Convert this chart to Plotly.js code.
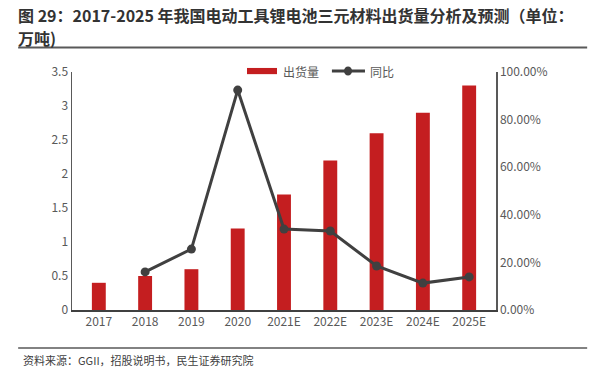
<!DOCTYPE html>
<html><head><meta charset="utf-8">
<script src="https://cdn.plot.ly/plotly-3.0.1.min.js"></script>
<style>body{margin:0;background:#fff}#c{width:602px;height:384px}</style>
</head><body><div id="c"></div>
<script>
const categories = ["2017","2018","2019","2020","2021E","2022E","2023E","2024E","2025E"];
const shipments = [0.4,0.5,0.6,1.2,1.7,2.2,2.6,2.9,3.3];
const yoy = [null,0.16,0.256,0.924,0.34,0.332,0.185,0.113,0.139];
const leftTicks = [0,0.5,1,1.5,2,2.5,3,3.5];
const leftTickText = ["0","0.5","1","1.5","2","2.5","3","3.5"];
const rightTicks = [0,0.2,0.4,0.6,0.8,1.0];
const rightTickText = ["0.00%","20.00%","40.00%","60.00%","80.00%","100.00%"];
const seriesNames = ["出货量","同比"];

const F = '"Noto Sans CJK SC","Noto Sans",sans-serif';
const data = [
 {type:'bar', x:categories, y:shipments, name:seriesNames[0], marker:{color:'#C41E20'}, width:0.3},
 {type:'scatter', mode:'lines+markers', x:categories, y:yoy, yaxis:'y2', name:seriesNames[1],
  line:{color:'#404040', width:3}, marker:{color:'#404040', size:9}, connectgaps:false}
];
const layout = {
 width:602, height:384, margin:{l:72, r:106, t:72, b:74},
 paper_bgcolor:'#fff', plot_bgcolor:'#fff', showlegend:false,
 font:{family:F, size:12, color:'#595959'},
 xaxis:{type:'category', showline:true, linecolor:'#404040', linewidth:1.5, ticks:'', showgrid:false, tickfont:{size:12,color:'#595959'}},
 yaxis:{range:[0,3.5], tickvals:leftTicks, ticktext:leftTickText, showline:true, linecolor:'#595959', linewidth:1.5, showgrid:false, zeroline:false, ticks:'', tickfont:{size:12,color:'#595959'}},
 yaxis2:{overlaying:'y', side:'right', range:[0,1.0], tickvals:rightTicks, ticktext:rightTickText, showline:true, linecolor:'#595959', linewidth:1.5, showgrid:false, zeroline:false, ticks:'', tickfont:{size:12,color:'#595959'}},
 annotations:[
  {xref:'paper', yref:'paper', x:-0.13, y:1.239, xanchor:'left', yanchor:'middle', align:'left', showarrow:false, borderpad:0,
   text:'<b>图 29：2017-2025 年我国电动工具锂电池三元材料出货量分析及预测（单位：</b>',
   font:{family:F, size:16, color:'#333'}},
  {xref:'paper', yref:'paper', x:-0.13, y:1.141, xanchor:'left', yanchor:'middle', align:'left', showarrow:false, borderpad:0,
   text:'<b>万吨)</b>',
   font:{family:F, size:16, color:'#333'}},
  {xref:'paper', yref:'paper', x:-0.12, y:-0.17, xanchor:'left', yanchor:'top', showarrow:false,
   text:'资料来源：GGII，招股说明书，民生证券研究院', font:{family:F, size:11, color:'#404040'}},
  {xref:'paper', yref:'paper', x:0.493, y:1.004, xanchor:'left', yanchor:'middle', showarrow:false,
   text:seriesNames[0], font:{family:F, size:12, color:'#595959'}},
  {xref:'paper', yref:'paper', x:0.698, y:1.004, xanchor:'left', yanchor:'middle', showarrow:false,
   text:seriesNames[1], font:{family:F, size:12, color:'#595959'}}
 ],
 shapes:[
  {type:'line', xref:'paper', yref:'paper', x0:-0.127, x1:1.215, y0:1.103, y1:1.103, line:{color:'#595959', width:2}},
  {type:'line', xref:'paper', yref:'paper', x0:-0.127, x1:1.215, y0:-0.16, y1:-0.16, line:{color:'#595959', width:1.5}},
  {type:'rect', xref:'paper', yref:'paper', x0:0.4127, x1:0.4835, y0:0.991, y1:1.017, fillcolor:'#C41E20', line:{width:0}},
  {type:'line', xref:'paper', yref:'paper', x0:0.613, x1:0.691, y0:1.004, y1:1.004, line:{color:'#404040', width:3}},
  {type:'circle', xref:'paper', yref:'paper', x0:0.6415, x1:0.6605, y0:0.985, y1:1.023, fillcolor:'#404040', line:{width:0}}
 ]
};
Plotly.newPlot('c', data, layout, {displayModeBar:false, staticPlot:true});
</script></body></html>
